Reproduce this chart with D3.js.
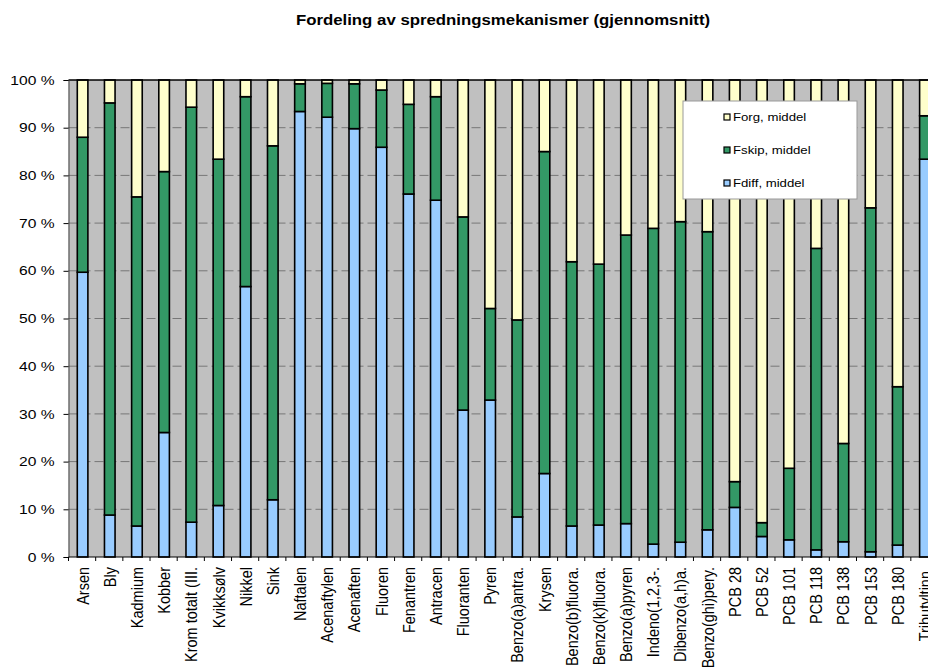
<!DOCTYPE html>
<html>
<head>
<meta charset="utf-8">
<script src="https://cdn.jsdelivr.net/npm/d3@7"></script>
<style>
  body { margin: 0; background: #fff; }
  text { font-family: "Liberation Sans", Arial, sans-serif; fill: #000; }
</style>
</head>
<body>
<div id="chart"></div>
<script>
var width = 928;
var height = 670;

var categories = ["Arsen", "Bly", "Kadmium", "Kobber", "Krom totalt (III.", "Kvikksølv", "Nikkel", "Sink",
    "Naftalen", "Acenaftylen", "Acenaften", "Fluoren", "Fenantren", "Antracen", "Fluoranten", "Pyren",
    "Benzo(a)antra.", "Krysen", "Benzo(b)fluora.", "Benzo(k)fluora.", "Benzo(a)pyren", "Indeno(1,2,3-.",
    "Dibenzo(a,h)a.", "Benzo(ghi)pery.", "PCB 28", "PCB 52", "PCB 101", "PCB 118", "PCB 138", "PCB 153",
    "PCB 180", "Tributyltinn."];

// percent of each category
var fdiff = [59.7, 8.8, 6.5, 26.1, 7.3, 10.8, 56.7, 12.0, 93.4, 92.2, 89.8, 85.9, 76.1, 74.8, 30.8, 32.9,
    8.4, 17.5, 6.5, 6.7, 7.0, 2.7, 3.1, 5.7, 10.4, 4.3, 3.6, 1.5, 3.2, 1.1, 2.5, 83.4];
var fskip = [28.3, 86.4, 69.0, 54.7, 87.0, 72.6, 39.8, 74.2, 5.8, 7.1, 9.4, 12.0, 18.8, 21.7, 40.5, 19.2,
    41.3, 67.5, 55.4, 54.7, 60.5, 66.2, 67.2, 62.5, 5.4, 2.9, 15.0, 63.2, 20.6, 72.1, 33.2, 9.1];
var forg = [12.0, 4.8, 24.5, 19.2, 5.7, 16.6, 3.5, 13.8, 0.8, 0.7, 0.8, 2.1, 5.1, 3.5, 28.7, 47.9,
    50.3, 15.0, 38.1, 38.6, 32.5, 31.1, 29.7, 31.8, 84.2, 92.8, 81.4, 35.3, 76.2, 26.8, 64.3, 7.5];

var seriesKeys = ["fdiff", "fskip", "forg"];
var seriesNames = {fdiff: "Fdiff, middel", fskip: "Fskip, middel", forg: "Forg, middel"};
var colors = {fdiff: "#99ccff", fskip: "#339966", forg: "#ffffcc"};
var yTicks = [0, 10, 20, 30, 40, 50, 60, 70, 80, 90, 100];

var table = categories.map(function (c, i) {
    return {name: c, fdiff: fdiff[i], fskip: fskip[i], forg: forg[i]};
});

var plotLeft = 68.5;
var plotRight = 938;
var plotTop = 80;
var plotBottom = 557;
var sx = 1.2; // text in the picture is stretched sideways

var svg = d3.select("#chart").append("svg")
    .attr("width", width)
    .attr("height", height);

var x = d3.scaleBand().domain(categories).range([plotLeft, plotRight]);
var y = d3.scaleLinear().domain([0, 100]).range([plotBottom, plotTop]);

// title
svg.append("text")
    .attr("transform", "translate(503,25) scale(" + sx + ",1)")
    .attr("text-anchor", "middle")
    .style("font-size", "14px")
    .style("font-weight", "bold")
    .text("Fordeling av spredningsmekanismer (gjennomsnitt)");

// plot background
svg.append("rect")
    .attr("x", plotLeft)
    .attr("y", plotTop)
    .attr("width", plotRight - plotLeft)
    .attr("height", plotBottom - plotTop)
    .attr("fill", "#c0c0c0");

// gridlines
svg.append("g").selectAll("line")
    .data(yTicks.filter(function (d) { return d > 0 && d < 100; }))
    .enter().append("line")
    .attr("x1", plotLeft)
    .attr("x2", plotRight)
    .attr("y1", function (d) { return y(d); })
    .attr("y2", function (d) { return y(d); })
    .attr("stroke", "#777")
    .attr("stroke-width", 1)
    .attr("stroke-dasharray", "9,4");

// bars
var stacked = d3.stack().keys(seriesKeys)(table);
var barW = x.bandwidth() * 0.39;

svg.append("g").selectAll("g")
    .data(stacked)
    .enter().append("g")
    .attr("fill", function (d) { return colors[d.key]; })
    .selectAll("rect")
    .data(function (d) { return d; })
    .enter().append("rect")
    .attr("x", function (d) { return x(d.data.name) + (x.bandwidth() - barW) / 2 + 0.5; })
    .attr("y", function (d) { return y(d[1]); })
    .attr("width", barW)
    .attr("height", function (d) { return y(d[0]) - y(d[1]); })
    .attr("stroke", "#000")
    .attr("stroke-width", 1.6);

// top border
svg.append("line")
    .attr("x1", plotLeft).attr("x2", plotRight)
    .attr("y1", plotTop).attr("y2", plotTop)
    .attr("stroke", "#000").attr("stroke-width", 1.5);

// y axis
var yAxis = svg.append("g")
    .attr("transform", "translate(" + plotLeft + ",0)")
    .call(d3.axisLeft(y).tickValues(yTicks).tickSize(5).tickPadding(9)
        .tickFormat(function (d) { return d + " %"; }));
yAxis.select(".domain").attr("stroke", "#444");
yAxis.selectAll(".tick line").attr("stroke", "#000");
yAxis.selectAll(".tick text")
    .attr("x", -14 / sx)
    .attr("transform", "scale(" + sx + ",1)")
    .style("font-size", "13px")
    .style("font-family", "'Liberation Sans', Arial, sans-serif");

// x axis line with ticks between categories
var xAxis = svg.append("g");
xAxis.append("line")
    .attr("x1", plotLeft).attr("x2", plotRight)
    .attr("y1", plotBottom).attr("y2", plotBottom)
    .attr("stroke", "#000");
xAxis.selectAll(".xtick")
    .data(categories)
    .enter().append("line")
    .attr("class", "xtick")
    .attr("x1", function (d) { return x(d); })
    .attr("x2", function (d) { return x(d); })
    .attr("y1", plotBottom)
    .attr("y2", plotBottom + 4)
    .attr("stroke", "#000");
xAxis.selectAll(".xlabel")
    .data(categories)
    .enter().append("text")
    .attr("class", "xlabel")
    .attr("transform", function (d) {
        return "translate(" + (x(d) + x.bandwidth() / 2 + 0.5) + "," + (plotBottom + 10) + ") scale(" + sx + ",1) rotate(-90)";
    })
    .attr("text-anchor", "end")
    .attr("dy", "0.35em")
    .style("font-size", "14.5px")
    .text(function (d) { return d; });

// legend
var legend = svg.append("g").attr("transform", "translate(683,101)");
legend.append("rect")
    .attr("width", 174)
    .attr("height", 98)
    .attr("fill", "#fff")
    .attr("stroke", "#999")
    .attr("stroke-width", 1);

var legendItems = legend.selectAll(".item")
    .data(seriesKeys.slice().reverse())
    .enter().append("g")
    .attr("class", "item")
    .attr("transform", function (d, i) { return "translate(0," + (16 + i * 33) + ")"; });
legendItems.append("rect")
    .attr("x", 41)
    .attr("y", -3)
    .attr("width", 6)
    .attr("height", 6)
    .attr("fill", function (d) { return colors[d]; })
    .attr("stroke", "#000")
    .attr("stroke-width", 1.2);
legendItems.append("text")
    .attr("transform", "translate(50,0) scale(" + sx + ",1)")
    .attr("dy", "0.35em")
    .style("font-size", "11px")
    .text(function (d) { return seriesNames[d]; });
</script>
</body>
</html>
